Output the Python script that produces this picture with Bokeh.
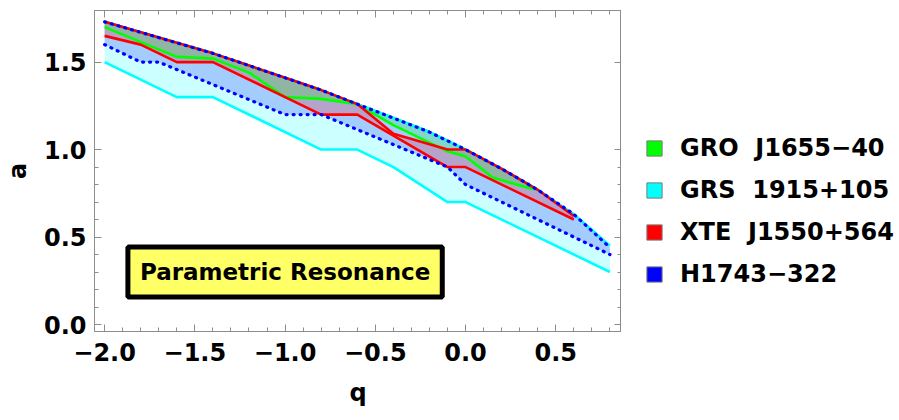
from bokeh.plotting import figure
from bokeh.models import Range1d, FixedTicker, LinearAxis, Legend, LegendItem, Label
from bokeh.layouts import row
from bokeh.embed import file_html
from bokeh.resources import INLINE

# ---------------- data ----------------
top_q = [-2.0, -1.8, -1.6, -1.4, -1.2, -1.0, -0.8, -0.6, -0.4, -0.2, 0.0, 0.2, 0.4, 0.6, 0.8]
top_a = [1.73, 1.67, 1.61, 1.55, 1.48, 1.41, 1.34, 1.26, 1.18, 1.10, 1.00, 0.89, 0.77, 0.63, 0.45]

# GRS 1915+105 (cyan)
grs_up_q = top_q
grs_up_a = top_a
grs_lo_q = [-2.0, -1.6, -1.4, -0.8, -0.6, -0.4, -0.1, 0.0, 0.8]
grs_lo_a = [1.50, 1.30, 1.30, 1.00, 1.00, 0.90, 0.70, 0.70, 0.30]

# H1743-322 (blue, dotted)
h_up_q = top_q
h_up_a = [1.73, 1.67, 1.61, 1.55, 1.48, 1.41, 1.34, 1.26, 1.18, 1.10, 1.00, 0.89, 0.77, 0.63, 0.44]
h_lo_q = [-2.0, -1.8, -1.7, -1.0, -0.8, -0.1, 0.0, 0.8]
h_lo_a = [1.60, 1.50, 1.50, 1.20, 1.20, 0.90, 0.80, 0.40]

# XTE J1550+564 (red)
xte_up_q = [-2.0, -1.8, -1.6, -1.4, -1.2, -1.0, -0.8, -0.6, -0.4, -0.1, 0.0, 0.2, 0.4, 0.6]
xte_up_a = [1.73, 1.67, 1.61, 1.55, 1.48, 1.41, 1.34, 1.26, 1.09, 1.00, 1.00, 0.89, 0.77, 0.62]
xte_lo_q = [-2.0, -1.8, -1.6, -1.4, -0.8, -0.6, -0.1, 0.0, 0.6]
xte_lo_a = [1.65, 1.60, 1.50, 1.50, 1.20, 1.20, 0.90, 0.90, 0.60]

# GRO J1655-40 (green)
gro_up_q = [-2.0, -1.8, -1.6, -1.4, -1.2, -1.0, -0.8, -0.6, -0.4, -0.2, 0.0, 0.2, 0.4]
gro_up_a = [1.73, 1.67, 1.61, 1.55, 1.48, 1.41, 1.34, 1.26, 1.18, 1.10, 1.00, 0.89, 0.77]
gro_lo_q = [-2.0, -1.6, -1.4, -1.2, -1.0, -0.8, -0.6, -0.4, -0.1, 0.0, 0.15, 0.35, 0.4]
gro_lo_a = [1.70, 1.53, 1.52, 1.44, 1.30, 1.29, 1.26, 1.14, 0.99, 0.96, 0.84, 0.78, 0.77]

x_ticks = [-2.0, -1.5, -1.0, -0.5, 0.0, 0.5]
x_tick_labels = ["\u22122.0", "\u22121.5", "\u22121.0", "\u22120.5", "0.0", "0.5"]
y_ticks = [0.0, 0.5, 1.0, 1.5]
y_tick_labels = ["0.0", "0.5", "1.0", "1.5"]

names = ["GRO  J1655\u221240", "GRS  1915+105", "XTE  J1550+564", "H1743\u2212322"]
colors = ["#00FF00", "#00FFFF", "#FF0000", "#0000FF"]
series_pts = [(gro_lo_q, gro_lo_a), (grs_lo_q, grs_lo_a), (xte_lo_q, xte_lo_a), (h_lo_q, h_lo_a)]

FONT = "DejaVu Sans"
FRAME = "#8c8c8c"

p = figure(width=621, height=420, output_backend="svg", toolbar_location=None,
           x_range=Range1d(-2.056, 0.864), y_range=Range1d(-0.04, 1.795),
           min_border_left=93, min_border_right=0, min_border_top=10, min_border_bottom=89,
           x_axis_label="q", y_axis_label="a")
p.grid.visible = False
p.outline_line_color = FRAME
p.background_fill_color = "white"


def poly(uq, ua, lq, la):
    return list(uq) + list(lq)[::-1], list(ua) + list(la)[::-1]


# fills
for (uq, ua, lq, la), c in [((grs_up_q, grs_up_a, grs_lo_q, grs_lo_a), "#00FFFF"),
                            ((h_up_q, h_up_a, h_lo_q, h_lo_a), "#0000FF"),
                            ((xte_up_q, xte_up_a, xte_lo_q, xte_lo_a), "#FF0000"),
                            ((gro_up_q, gro_up_a, gro_lo_q, gro_lo_a), "#00FF00")]:
    xs, ys = poly(uq, ua, lq, la)
    p.patch(xs, ys, fill_color=c, fill_alpha=0.2, line_color=None)

# boundary lines
LW = 2.6
p.line(gro_up_q, gro_up_a, line_color="#00FF00", line_width=LW)
p.line(gro_lo_q, gro_lo_a, line_color="#00FF00", line_width=LW)
p.line(grs_up_q, grs_up_a, line_color="#00FFFF", line_width=LW)
p.line(grs_lo_q, grs_lo_a, line_color="#00FFFF", line_width=LW)
p.line(xte_up_q, xte_up_a, line_color="#FF0000", line_width=LW)
p.line(xte_lo_q, xte_lo_a, line_color="#FF0000", line_width=LW)
p.line(h_up_q, h_up_a, line_color="#0000FF", line_width=3.2, line_dash="1 6", line_cap="round")
p.line(h_lo_q, h_lo_a, line_color="#0000FF", line_width=3.2, line_dash="1 6", line_cap="round")


# axes styling
def style_axis(ax, ticks, labels=None, show_labels=True):
    ax.ticker = FixedTicker(ticks=ticks, minor_ticks=[round(-2.1 + 0.1 * i, 1) for i in range(32)])
    ax.major_tick_in = 7
    ax.major_tick_out = 0
    ax.minor_tick_in = 4
    ax.minor_tick_out = 0
    ax.axis_line_color = FRAME
    ax.major_tick_line_color = FRAME
    ax.minor_tick_line_color = FRAME
    if show_labels:
        ax.major_label_overrides = {t: l for t, l in zip(ticks, labels)}
        ax.major_label_text_font = FONT
        ax.major_label_text_font_style = "bold"
        ax.major_label_text_font_size = "24px"
        ax.major_label_text_color = "black"
        ax.axis_label_text_font = FONT
        ax.axis_label_text_font_style = "bold"
        ax.axis_label_text_font_size = "24px"
        ax.axis_label_text_color = "black"
    else:
        ax.major_label_text_font_size = "0px"
        ax.major_label_standoff = 0
        ax.axis_label = None


style_axis(p.xaxis[0], x_ticks, x_tick_labels)
p.xaxis[0].major_label_standoff = 11
p.xaxis[0].axis_label_standoff = 15
style_axis(p.yaxis[0], y_ticks, y_tick_labels)
p.yaxis[0].major_label_standoff = 8
p.yaxis[0].axis_label_standoff = 9

top_ax = LinearAxis()
style_axis(top_ax, x_ticks, show_labels=False)
p.add_layout(top_ax, "above")
right_ax = LinearAxis()
style_axis(right_ax, y_ticks, show_labels=False)
p.add_layout(right_ax, "right")

# annotation box
lab = Label(x=-1.0, y=0.3, text="Parametric Resonance", text_align="center", text_baseline="middle",
            text_font=FONT, text_font_style="bold", text_font_size="23px", text_color="black",
            background_fill_color="#FFFF66", border_line_color="black", border_line_width=5,
            padding=12)
p.add_layout(lab)

# ---------------- legend panel (separate figure to the right) ----------------
lf = figure(width=278, height=420, output_backend="svg", toolbar_location=None,
            x_axis_location=None, y_axis_location=None,
            min_border_left=0, min_border_right=0, min_border_top=10, min_border_bottom=89)
lf.grid.visible = False
lf.outline_line_color = None
items = []
for n, c, (sq, sa) in zip(names, colors, series_pts):
    r = lf.scatter(sq, sa, marker="square", size=0, fill_color=c, line_color="#7a7a7a", line_width=1)
    items.append(LegendItem(label=n, renderers=[r]))
legend = Legend(items=items, location=(14, 38), glyph_width=38, glyph_height=38,
                label_text_font=FONT, label_text_font_style="bold", label_text_font_size="24px",
                label_text_color="black", label_standoff=7, spacing=4, padding=0, margin=0,
                border_line_color=None, background_fill_alpha=0)
lf.add_layout(legend, "center")

layout = row(p, lf)
open("out.html", "w").write(file_html(layout, INLINE))
